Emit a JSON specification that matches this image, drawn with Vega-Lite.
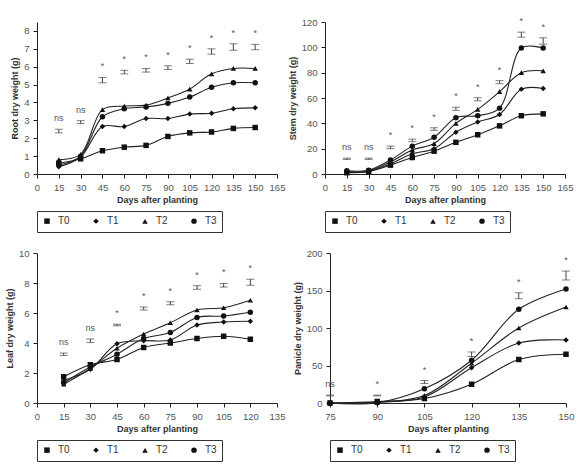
{
  "$schema": "https://vega.github.io/schema/vega-lite/v6.json",
  "padding": {"left": 5, "top": 17, "right": 5, "bottom": 3},
  "background": "white",
  "config": {
    "view": {"stroke": null},
    "font": "Liberation Sans",
    "text": {"font": "Liberation Sans"},
    "axis": {"grid": false, "domainColor": "#222", "tickColor": "#222", "tickSize": 4, "labelColor": "#555", "labelFont": "Liberation Sans", "labelFontSize": 9.5, "labelOverlap": false, "labelFlush": false, "labelBound": false, "titleFont": "Liberation Sans", "titleFontSize": 9, "titleFontWeight": "bold", "titleColor": "#333", "labelPadding": 4},
    "legend": {"direction": "horizontal", "title": null, "strokeColor": "#333", "padding": 5, "labelFont": "Liberation Sans", "labelFontSize": 10, "labelColor": "#333", "symbolSize": 30, "symbolFillColor": "#111", "symbolStrokeColor": "#111", "columnPadding": 20, "labelOffset": 6}
  },
  "datasets": {
    "series": [
      {"panel":"root","trt":"T0","day":15,"weight":0.6},{"panel":"root","trt":"T0","day":30,"weight":0.85},{"panel":"root","trt":"T0","day":45,"weight":1.3},{"panel":"root","trt":"T0","day":60,"weight":1.5},{"panel":"root","trt":"T0","day":75,"weight":1.6},{"panel":"root","trt":"T0","day":90,"weight":2.1},{"panel":"root","trt":"T0","day":105,"weight":2.3},{"panel":"root","trt":"T0","day":120,"weight":2.35},{"panel":"root","trt":"T0","day":135,"weight":2.55},{"panel":"root","trt":"T0","day":150,"weight":2.6},
      {"panel":"root","trt":"T1","day":15,"weight":0.4},{"panel":"root","trt":"T1","day":30,"weight":0.95},{"panel":"root","trt":"T1","day":45,"weight":2.65},{"panel":"root","trt":"T1","day":60,"weight":2.65},{"panel":"root","trt":"T1","day":75,"weight":3.1},{"panel":"root","trt":"T1","day":90,"weight":3.1},{"panel":"root","trt":"T1","day":105,"weight":3.35},{"panel":"root","trt":"T1","day":120,"weight":3.4},{"panel":"root","trt":"T1","day":135,"weight":3.65},{"panel":"root","trt":"T1","day":150,"weight":3.7},
      {"panel":"root","trt":"T2","day":15,"weight":0.8},{"panel":"root","trt":"T2","day":30,"weight":1.1},{"panel":"root","trt":"T2","day":45,"weight":3.6},{"panel":"root","trt":"T2","day":60,"weight":3.8},{"panel":"root","trt":"T2","day":75,"weight":3.85},{"panel":"root","trt":"T2","day":90,"weight":4.25},{"panel":"root","trt":"T2","day":105,"weight":4.75},{"panel":"root","trt":"T2","day":120,"weight":5.6},{"panel":"root","trt":"T2","day":135,"weight":5.9},{"panel":"root","trt":"T2","day":150,"weight":5.9},
      {"panel":"root","trt":"T3","day":15,"weight":0.5},{"panel":"root","trt":"T3","day":30,"weight":1.0},{"panel":"root","trt":"T3","day":45,"weight":3.2},{"panel":"root","trt":"T3","day":60,"weight":3.65},{"panel":"root","trt":"T3","day":75,"weight":3.75},{"panel":"root","trt":"T3","day":90,"weight":3.95},{"panel":"root","trt":"T3","day":105,"weight":4.3},{"panel":"root","trt":"T3","day":120,"weight":4.85},{"panel":"root","trt":"T3","day":135,"weight":5.1},{"panel":"root","trt":"T3","day":150,"weight":5.1},

      {"panel":"stem","trt":"T0","day":15,"weight":1},{"panel":"stem","trt":"T0","day":30,"weight":2},{"panel":"stem","trt":"T0","day":45,"weight":7},{"panel":"stem","trt":"T0","day":60,"weight":13},{"panel":"stem","trt":"T0","day":75,"weight":18},{"panel":"stem","trt":"T0","day":90,"weight":25},{"panel":"stem","trt":"T0","day":105,"weight":31},{"panel":"stem","trt":"T0","day":120,"weight":38},{"panel":"stem","trt":"T0","day":135,"weight":46},{"panel":"stem","trt":"T0","day":150,"weight":47.5},
      {"panel":"stem","trt":"T1","day":15,"weight":1.5},{"panel":"stem","trt":"T1","day":30,"weight":2},{"panel":"stem","trt":"T1","day":45,"weight":8},{"panel":"stem","trt":"T1","day":60,"weight":16},{"panel":"stem","trt":"T1","day":75,"weight":20},{"panel":"stem","trt":"T1","day":90,"weight":33},{"panel":"stem","trt":"T1","day":105,"weight":41},{"panel":"stem","trt":"T1","day":120,"weight":47},{"panel":"stem","trt":"T1","day":135,"weight":67},{"panel":"stem","trt":"T1","day":150,"weight":67.5},
      {"panel":"stem","trt":"T2","day":15,"weight":1.5},{"panel":"stem","trt":"T2","day":30,"weight":2.5},{"panel":"stem","trt":"T2","day":45,"weight":9.5},{"panel":"stem","trt":"T2","day":60,"weight":19},{"panel":"stem","trt":"T2","day":75,"weight":24},{"panel":"stem","trt":"T2","day":90,"weight":40},{"panel":"stem","trt":"T2","day":105,"weight":51},{"panel":"stem","trt":"T2","day":120,"weight":65},{"panel":"stem","trt":"T2","day":135,"weight":80},{"panel":"stem","trt":"T2","day":150,"weight":81.5},
      {"panel":"stem","trt":"T3","day":15,"weight":2.5},{"panel":"stem","trt":"T3","day":30,"weight":3},{"panel":"stem","trt":"T3","day":45,"weight":11},{"panel":"stem","trt":"T3","day":60,"weight":22},{"panel":"stem","trt":"T3","day":75,"weight":29},{"panel":"stem","trt":"T3","day":90,"weight":44.5},{"panel":"stem","trt":"T3","day":105,"weight":46},{"panel":"stem","trt":"T3","day":120,"weight":52},{"panel":"stem","trt":"T3","day":135,"weight":99.5},{"panel":"stem","trt":"T3","day":150,"weight":99.5},

      {"panel":"leaf","trt":"T0","day":15,"weight":1.75},{"panel":"leaf","trt":"T0","day":30,"weight":2.55},{"panel":"leaf","trt":"T0","day":45,"weight":2.9},{"panel":"leaf","trt":"T0","day":60,"weight":3.7},{"panel":"leaf","trt":"T0","day":75,"weight":4.0},{"panel":"leaf","trt":"T0","day":90,"weight":4.3},{"panel":"leaf","trt":"T0","day":105,"weight":4.45},{"panel":"leaf","trt":"T0","day":120,"weight":4.25},
      {"panel":"leaf","trt":"T1","day":15,"weight":1.5},{"panel":"leaf","trt":"T1","day":30,"weight":2.25},{"panel":"leaf","trt":"T1","day":45,"weight":3.95},{"panel":"leaf","trt":"T1","day":60,"weight":4.15},{"panel":"leaf","trt":"T1","day":75,"weight":4.2},{"panel":"leaf","trt":"T1","day":90,"weight":5.2},{"panel":"leaf","trt":"T1","day":105,"weight":5.4},{"panel":"leaf","trt":"T1","day":120,"weight":5.45},
      {"panel":"leaf","trt":"T2","day":15,"weight":1.25},{"panel":"leaf","trt":"T2","day":30,"weight":2.3},{"panel":"leaf","trt":"T2","day":45,"weight":3.65},{"panel":"leaf","trt":"T2","day":60,"weight":4.6},{"panel":"leaf","trt":"T2","day":75,"weight":5.35},{"panel":"leaf","trt":"T2","day":90,"weight":6.2},{"panel":"leaf","trt":"T2","day":105,"weight":6.35},{"panel":"leaf","trt":"T2","day":120,"weight":6.85},
      {"panel":"leaf","trt":"T3","day":15,"weight":1.35},{"panel":"leaf","trt":"T3","day":30,"weight":2.4},{"panel":"leaf","trt":"T3","day":45,"weight":3.25},{"panel":"leaf","trt":"T3","day":60,"weight":4.3},{"panel":"leaf","trt":"T3","day":75,"weight":4.7},{"panel":"leaf","trt":"T3","day":90,"weight":5.7},{"panel":"leaf","trt":"T3","day":105,"weight":5.8},{"panel":"leaf","trt":"T3","day":120,"weight":6.05},

      {"panel":"panicle","trt":"T0","day":75,"weight":0},{"panel":"panicle","trt":"T0","day":90,"weight":2},{"panel":"panicle","trt":"T0","day":105,"weight":6},{"panel":"panicle","trt":"T0","day":120,"weight":25},{"panel":"panicle","trt":"T0","day":135,"weight":58},{"panel":"panicle","trt":"T0","day":150,"weight":65},
      {"panel":"panicle","trt":"T1","day":75,"weight":0},{"panel":"panicle","trt":"T1","day":90,"weight":1},{"panel":"panicle","trt":"T1","day":105,"weight":8},{"panel":"panicle","trt":"T1","day":120,"weight":47},{"panel":"panicle","trt":"T1","day":135,"weight":80},{"panel":"panicle","trt":"T1","day":150,"weight":84},
      {"panel":"panicle","trt":"T2","day":75,"weight":0},{"panel":"panicle","trt":"T2","day":90,"weight":1},{"panel":"panicle","trt":"T2","day":105,"weight":10},{"panel":"panicle","trt":"T2","day":120,"weight":53},{"panel":"panicle","trt":"T2","day":135,"weight":100},{"panel":"panicle","trt":"T2","day":150,"weight":128},
      {"panel":"panicle","trt":"T3","day":75,"weight":0},{"panel":"panicle","trt":"T3","day":90,"weight":0.5},{"panel":"panicle","trt":"T3","day":105,"weight":19},{"panel":"panicle","trt":"T3","day":120,"weight":57},{"panel":"panicle","trt":"T3","day":135,"weight":125},{"panel":"panicle","trt":"T3","day":150,"weight":152}
    ],
    "err": [
      {"panel":"root","day":15,"lo":2.3,"hi":2.5,"sig":"ns"},{"panel":"root","day":30,"lo":2.82,"hi":2.98,"sig":"ns"},{"panel":"root","day":45,"lo":5.1,"hi":5.4,"sig":"*"},{"panel":"root","day":60,"lo":5.6,"hi":5.8,"sig":"*"},{"panel":"root","day":75,"lo":5.7,"hi":5.9,"sig":"*"},{"panel":"root","day":90,"lo":5.85,"hi":6.05,"sig":"*"},{"panel":"root","day":105,"lo":6.18,"hi":6.42,"sig":"*"},{"panel":"root","day":120,"lo":6.7,"hi":7.0,"sig":"*"},{"panel":"root","day":135,"lo":6.92,"hi":7.28,"sig":"*"},{"panel":"root","day":150,"lo":6.95,"hi":7.25,"sig":"*"},
      {"panel":"stem","day":15,"lo":11.5,"hi":12.5,"sig":"ns"},{"panel":"stem","day":30,"lo":11.5,"hi":12.5,"sig":"ns"},{"panel":"stem","day":45,"lo":20,"hi":22,"sig":"*"},{"panel":"stem","day":60,"lo":25.5,"hi":27.5,"sig":"*"},{"panel":"stem","day":75,"lo":34.5,"hi":36.5,"sig":"*"},{"panel":"stem","day":90,"lo":50.3,"hi":52.7,"sig":"*"},{"panel":"stem","day":105,"lo":57.8,"hi":60.2,"sig":"*"},{"panel":"stem","day":120,"lo":71.3,"hi":73.7,"sig":"*"},{"panel":"stem","day":135,"lo":108,"hi":112,"sig":"*"},{"panel":"stem","day":150,"lo":102.5,"hi":107.5,"sig":"*"},
      {"panel":"leaf","day":15,"lo":3.17,"hi":3.33,"sig":"ns"},{"panel":"leaf","day":30,"lo":4.03,"hi":4.27,"sig":"ns"},{"panel":"leaf","day":45,"lo":5.15,"hi":5.25,"sig":"*"},{"panel":"leaf","day":60,"lo":6.2,"hi":6.4,"sig":"*"},{"panel":"leaf","day":75,"lo":6.55,"hi":6.75,"sig":"*"},{"panel":"leaf","day":90,"lo":7.58,"hi":7.82,"sig":"*"},{"panel":"leaf","day":105,"lo":7.73,"hi":7.97,"sig":"*"},{"panel":"leaf","day":120,"lo":7.85,"hi":8.25,"sig":"*"},
      {"panel":"panicle","day":75,"lo":9.5,"hi":10.5,"sig":"ns"},{"panel":"panicle","day":90,"lo":9.5,"hi":10.5,"sig":"*"},{"panel":"panicle","day":105,"lo":26,"hi":30,"sig":"*"},{"panel":"panicle","day":120,"lo":62,"hi":68,"sig":"*"},{"panel":"panicle","day":135,"lo":139,"hi":147,"sig":"*"},{"panel":"panicle","day":150,"lo":164,"hi":176,"sig":"*"}
    ]
  },
  "resolve": {"scale": {"shape": "independent"}, "legend": {"shape": "independent"}},
  "spacing": 15,
  "vconcat": [
    {
      "spacing": 3,
      "resolve": {"scale": {"shape": "independent"}, "legend": {"shape": "independent"}},
      "hconcat": [
        {
          "width": 240, "height": 152,
          "encoding": {
            "x": {"field": "day", "type": "quantitative", "scale": {"domain": [0, 165], "nice": false}, "axis": {"values": [0,15,30,45,60,75,90,105,120,135,150,165], "title": "Days after planting"}}
          },
          "layer": [
            {"data": {"name": "series"}, "transform": [{"filter": "datum.panel == 'root'"}],
             "mark": {"type": "line", "interpolate": "catmull-rom", "color": "#222", "strokeWidth": 1.1},
             "encoding": {
               "y": {"field": "weight", "type": "quantitative", "scale": {"domain": [0, 8.5], "nice": false}, "axis": {"values": [0,1,2,3,4,5,6,7,8], "title": "Root dry weight (g)"}},
               "detail": {"field": "trt"}}},
            {"data": {"name": "series"}, "transform": [{"filter": "datum.panel == 'root'"}],
             "mark": {"type": "point", "filled": true, "color": "#111", "opacity": 1, "size": 30},
             "encoding": {
               "y": {"field": "weight", "type": "quantitative", "axis": {"values": [0,1,2,3,4,5,6,7,8], "title": "Root dry weight (g)"}},
               "shape": {"field": "trt", "type": "nominal", "scale": {"domain": ["T0","T1","T2","T3"], "range": ["square","diamond","triangle-up","circle"]}, "legend": {"orient": "none", "legendX": 0, "legendY": 189}}}},
            {"data": {"name": "err"}, "transform": [{"filter": "datum.panel == 'root'"}],
             "mark": {"type": "rule", "color": "#444", "strokeWidth": 1},
             "encoding": {"y": {"field": "lo", "type": "quantitative", "axis": {"values": [0,1,2,3,4,5,6,7,8], "title": "Root dry weight (g)"}}, "y2": {"field": "hi"}}},
            {"data": {"name": "err"}, "transform": [{"filter": "datum.panel == 'root'"}],
             "mark": {"type": "tick", "orient": "horizontal", "color": "#444", "size": 8, "thickness": 1},
             "encoding": {"y": {"field": "lo", "type": "quantitative", "axis": {"values": [0,1,2,3,4,5,6,7,8], "title": "Root dry weight (g)"}}}},
            {"data": {"name": "err"}, "transform": [{"filter": "datum.panel == 'root'"}],
             "mark": {"type": "tick", "orient": "horizontal", "color": "#444", "size": 8, "thickness": 1},
             "encoding": {"y": {"field": "hi", "type": "quantitative", "axis": {"values": [0,1,2,3,4,5,6,7,8], "title": "Root dry weight (g)"}}}},
            {"data": {"name": "err"}, "transform": [{"filter": "datum.panel == 'root'"}],
             "mark": {"type": "text", "fill": "#555", "fontSize": 9, "dy": -6, "baseline": "bottom"},
             "encoding": {"y": {"field": "hi", "type": "quantitative", "axis": {"values": [0,1,2,3,4,5,6,7,8], "title": "Root dry weight (g)"}}, "text": {"field": "sig"}}}
          ]
        },
        {
          "width": 240, "height": 152,
          "encoding": {
            "x": {"field": "day", "type": "quantitative", "scale": {"domain": [0, 165], "nice": false}, "axis": {"values": [0,15,30,45,60,75,90,105,120,135,150,165], "title": "Days after planting"}}
          },
          "layer": [
            {"data": {"name": "series"}, "transform": [{"filter": "datum.panel == 'stem'"}],
             "mark": {"type": "line", "interpolate": "catmull-rom", "color": "#222", "strokeWidth": 1.1},
             "encoding": {
               "y": {"field": "weight", "type": "quantitative", "scale": {"domain": [0, 120], "nice": false}, "axis": {"values": [0,20,40,60,80,100,120], "title": "Stem dry weight (g)"}},
               "detail": {"field": "trt"}}},
            {"data": {"name": "series"}, "transform": [{"filter": "datum.panel == 'stem'"}],
             "mark": {"type": "point", "filled": true, "color": "#111", "opacity": 1, "size": 30},
             "encoding": {
               "y": {"field": "weight", "type": "quantitative", "axis": {"values": [0,20,40,60,80,100,120], "title": "Stem dry weight (g)"}},
               "shape": {"field": "trt", "type": "nominal", "scale": {"domain": ["T0","T1","T2","T3"], "range": ["square","diamond","triangle-up","circle"]}, "legend": {"orient": "none", "legendX": 0, "legendY": 189}}}},
            {"data": {"name": "err"}, "transform": [{"filter": "datum.panel == 'stem'"}],
             "mark": {"type": "rule", "color": "#444", "strokeWidth": 1},
             "encoding": {"y": {"field": "lo", "type": "quantitative", "axis": {"values": [0,20,40,60,80,100,120], "title": "Stem dry weight (g)"}}, "y2": {"field": "hi"}}},
            {"data": {"name": "err"}, "transform": [{"filter": "datum.panel == 'stem'"}],
             "mark": {"type": "tick", "orient": "horizontal", "color": "#444", "size": 8, "thickness": 1},
             "encoding": {"y": {"field": "lo", "type": "quantitative", "axis": {"values": [0,20,40,60,80,100,120], "title": "Stem dry weight (g)"}}}},
            {"data": {"name": "err"}, "transform": [{"filter": "datum.panel == 'stem'"}],
             "mark": {"type": "tick", "orient": "horizontal", "color": "#444", "size": 8, "thickness": 1},
             "encoding": {"y": {"field": "hi", "type": "quantitative", "axis": {"values": [0,20,40,60,80,100,120], "title": "Stem dry weight (g)"}}}},
            {"data": {"name": "err"}, "transform": [{"filter": "datum.panel == 'stem'"}],
             "mark": {"type": "text", "fill": "#555", "fontSize": 9, "dy": -6, "baseline": "bottom"},
             "encoding": {"y": {"field": "hi", "type": "quantitative", "axis": {"values": [0,20,40,60,80,100,120], "title": "Stem dry weight (g)"}}, "text": {"field": "sig"}}}
          ]
        }
      ]
    },
    {
      "spacing": 8,
      "resolve": {"scale": {"shape": "independent"}, "legend": {"shape": "independent"}},
      "hconcat": [
        {
          "width": 240, "height": 150,
          "encoding": {
            "x": {"field": "day", "type": "quantitative", "scale": {"domain": [0, 135], "nice": false}, "axis": {"values": [0,15,30,45,60,75,90,105,120,135], "title": "Days after planting"}}
          },
          "layer": [
            {"data": {"name": "series"}, "transform": [{"filter": "datum.panel == 'leaf'"}],
             "mark": {"type": "line", "interpolate": "catmull-rom", "color": "#222", "strokeWidth": 1.1},
             "encoding": {
               "y": {"field": "weight", "type": "quantitative", "scale": {"domain": [0, 10], "nice": false}, "axis": {"values": [0,2,4,6,8,10], "title": "Leaf dry weight (g)"}},
               "detail": {"field": "trt"}}},
            {"data": {"name": "series"}, "transform": [{"filter": "datum.panel == 'leaf'"}],
             "mark": {"type": "point", "filled": true, "color": "#111", "opacity": 1, "size": 30},
             "encoding": {
               "y": {"field": "weight", "type": "quantitative", "axis": {"values": [0,2,4,6,8,10], "title": "Leaf dry weight (g)"}},
               "shape": {"field": "trt", "type": "nominal", "scale": {"domain": ["T0","T1","T2","T3"], "range": ["square","diamond","triangle-up","circle"]}, "legend": {"orient": "none", "legendX": 0, "legendY": 187}}}},
            {"data": {"name": "err"}, "transform": [{"filter": "datum.panel == 'leaf'"}],
             "mark": {"type": "rule", "color": "#444", "strokeWidth": 1},
             "encoding": {"y": {"field": "lo", "type": "quantitative", "axis": {"values": [0,2,4,6,8,10], "title": "Leaf dry weight (g)"}}, "y2": {"field": "hi"}}},
            {"data": {"name": "err"}, "transform": [{"filter": "datum.panel == 'leaf'"}],
             "mark": {"type": "tick", "orient": "horizontal", "color": "#444", "size": 8, "thickness": 1},
             "encoding": {"y": {"field": "lo", "type": "quantitative", "axis": {"values": [0,2,4,6,8,10], "title": "Leaf dry weight (g)"}}}},
            {"data": {"name": "err"}, "transform": [{"filter": "datum.panel == 'leaf'"}],
             "mark": {"type": "tick", "orient": "horizontal", "color": "#444", "size": 8, "thickness": 1},
             "encoding": {"y": {"field": "hi", "type": "quantitative", "axis": {"values": [0,2,4,6,8,10], "title": "Leaf dry weight (g)"}}}},
            {"data": {"name": "err"}, "transform": [{"filter": "datum.panel == 'leaf'"}],
             "mark": {"type": "text", "fill": "#555", "fontSize": 9, "dy": -6, "baseline": "bottom"},
             "encoding": {"y": {"field": "hi", "type": "quantitative", "axis": {"values": [0,2,4,6,8,10], "title": "Leaf dry weight (g)"}}, "text": {"field": "sig"}}}
          ]
        },
        {
          "width": 236, "height": 150,
          "encoding": {
            "x": {"field": "day", "type": "quantitative", "scale": {"domain": [75, 150], "nice": false}, "axis": {"values": [75,90,105,120,135,150], "title": "Days after planting"}}
          },
          "layer": [
            {"data": {"name": "series"}, "transform": [{"filter": "datum.panel == 'panicle'"}],
             "mark": {"type": "line", "interpolate": "catmull-rom", "color": "#222", "strokeWidth": 1.1},
             "encoding": {
               "y": {"field": "weight", "type": "quantitative", "scale": {"domain": [0, 200], "nice": false}, "axis": {"values": [0,50,100,150,200], "title": "Panicle dry weight (g)"}},
               "detail": {"field": "trt"}}},
            {"data": {"name": "series"}, "transform": [{"filter": "datum.panel == 'panicle'"}],
             "mark": {"type": "point", "filled": true, "color": "#111", "opacity": 1, "size": 30},
             "encoding": {
               "y": {"field": "weight", "type": "quantitative", "axis": {"values": [0,50,100,150,200], "title": "Panicle dry weight (g)"}},
               "shape": {"field": "trt", "type": "nominal", "scale": {"domain": ["T0","T1","T2","T3"], "range": ["square","diamond","triangle-up","circle"]}, "legend": {"orient": "none", "legendX": 0, "legendY": 187}}}},
            {"data": {"name": "err"}, "transform": [{"filter": "datum.panel == 'panicle'"}],
             "mark": {"type": "rule", "color": "#444", "strokeWidth": 1},
             "encoding": {"y": {"field": "lo", "type": "quantitative", "axis": {"values": [0,50,100,150,200], "title": "Panicle dry weight (g)"}}, "y2": {"field": "hi"}}},
            {"data": {"name": "err"}, "transform": [{"filter": "datum.panel == 'panicle'"}],
             "mark": {"type": "tick", "orient": "horizontal", "color": "#444", "size": 8, "thickness": 1},
             "encoding": {"y": {"field": "lo", "type": "quantitative", "axis": {"values": [0,50,100,150,200], "title": "Panicle dry weight (g)"}}}},
            {"data": {"name": "err"}, "transform": [{"filter": "datum.panel == 'panicle'"}],
             "mark": {"type": "tick", "orient": "horizontal", "color": "#444", "size": 8, "thickness": 1},
             "encoding": {"y": {"field": "hi", "type": "quantitative", "axis": {"values": [0,50,100,150,200], "title": "Panicle dry weight (g)"}}}},
            {"data": {"name": "err"}, "transform": [{"filter": "datum.panel == 'panicle'"}],
             "mark": {"type": "text", "fill": "#555", "fontSize": 9, "dy": -6, "baseline": "bottom"},
             "encoding": {"y": {"field": "hi", "type": "quantitative", "axis": {"values": [0,50,100,150,200], "title": "Panicle dry weight (g)"}}, "text": {"field": "sig"}}}
          ]
        }
      ]
    }
  ]
}
